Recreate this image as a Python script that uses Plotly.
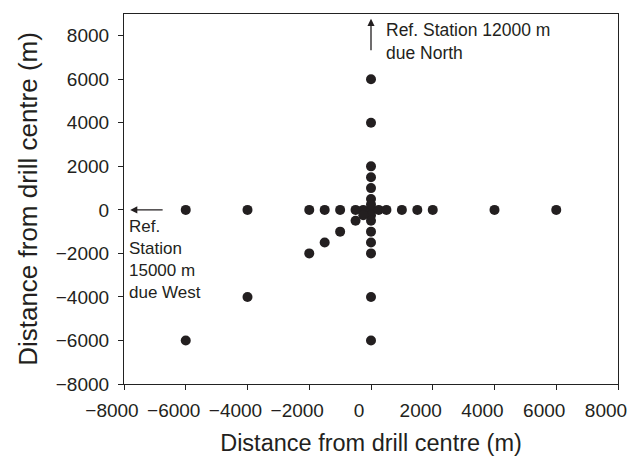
import plotly.graph_objects as go

# Sampling point positions (m from drill centre)
row_x = [-6000, -4000, -2000, -1500, -1000, -500, -250, 0, 250, 500, 1000, 1500, 2000, 4000, 6000]
row_y = [0] * len(row_x)
col_y = [6000, 4000, 2000, 1500, 1000, 500, 250, -250, -500, -1000, -1500, -2000, -4000, -6000]
col_x = [0] * len(col_y)
diag_x = [-250, -500, -1000, -1500, -2000, -4000, -6000]
diag_y = [-250, -500, -1000, -1500, -2000, -4000, -6000]

tick_vals = [-8000, -6000, -4000, -2000, 0, 2000, 4000, 6000, 8000]
tick_text = ["\u22128000", "\u22126000", "\u22124000", "\u22122000", "0", "2000", "4000", "6000", "8000"]

north_lines = ["Ref. Station 12000 m", "due North"]
west_lines = ["Ref.", "Station", "15000 m", "due West"]

xs = row_x + col_x + diag_x
ys = row_y + col_y + diag_y

font_family = "Liberation Sans, Arial, sans-serif"
ink = "#231f20"

fig = go.Figure()
fig.add_trace(go.Scatter(
    x=xs, y=ys, mode="markers",
    marker=dict(size=10, color=ink),
    showlegend=False, hoverinfo="skip",
))

axis_common = dict(
    showgrid=False, zeroline=False, showline=True, linecolor="#222", linewidth=1.2,
    mirror=True, ticks="outside", ticklen=5, tickcolor="#222", tickwidth=1,
    tickvals=tick_vals, ticktext=tick_text, automargin=False,
    tickfont=dict(family=font_family, size=19, color=ink),
)

# page body has an 8px default margin; figure sized to fit the 641x462 window
fig.update_layout(
    width=633, height=454,
    margin=dict(l=116, r=23, t=6, b=78),
    paper_bgcolor="white", plot_bgcolor="white",
    font=dict(family=font_family, color=ink),
    xaxis=dict(range=[-8000, 8000], ticklabelshift=-12, ticklabelstandoff=4,
               title=dict(text="Distance from drill centre (m)",
                          font=dict(family=font_family, size=23.5, color=ink), standoff=14),
               **axis_common),
    yaxis=dict(range=[-8000, 9000], ticklabelstandoff=5,
               title=dict(text="Distance from drill centre (m)",
                          font=dict(family=font_family, size=26, color=ink), standoff=10),
               **axis_common),
)

# North arrow
fig.add_annotation(x=0, y=8780, ax=0, ay=7260, xref="x", yref="y", axref="x", ayref="y",
                   text="", showarrow=True, arrowhead=2, arrowsize=1.1, arrowwidth=1.3, arrowcolor=ink)
fig.add_annotation(x=420, y=8800, xref="x", yref="y", xanchor="left", yanchor="top",
                   text="<br>".join(north_lines), showarrow=False, align="left",
                   font=dict(family=font_family, size=17.5, color=ink))
# West arrow
fig.add_annotation(x=-7800, y=0, ax=-6700, ay=0, xref="x", yref="y", axref="x", ayref="y",
                   text="", showarrow=True, arrowhead=2, arrowsize=1.1, arrowwidth=1.3, arrowcolor=ink)
fig.add_annotation(x=-7900, y=-250, xref="x", yref="y", xanchor="left", yanchor="top",
                   text="<br>".join(west_lines), showarrow=False, align="left",
                   font=dict(family=font_family, size=17, color=ink))

fig.write_html("out.html")
